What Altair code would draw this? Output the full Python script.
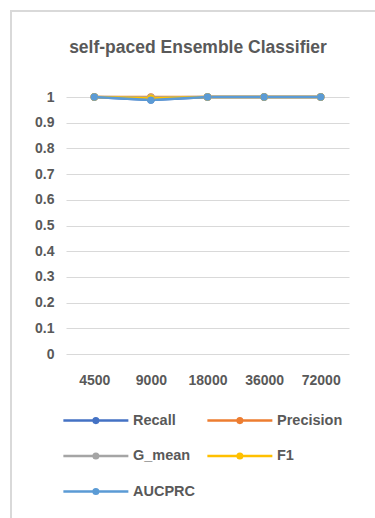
import altair as alt
import pandas as pd

# Sample sizes on the x axis
sizes = ["4500", "9000", "18000", "36000", "72000"]

# Metric values per sample size
recall = [1.0, 0.988, 1.0, 1.0, 1.0]
precision = [1.0, 1.0, 1.0, 1.0, 1.0]
g_mean = [1.0, 0.998, 1.0, 1.0, 1.0]
f1 = [1.0, 0.995, 1.0, 1.0, 1.0]
aucprc = [1.0, 0.988, 1.0, 1.0, 1.0]

series_names = ["Recall", "Precision", "G_mean", "F1", "AUCPRC"]
series_values = [recall, precision, g_mean, f1, aucprc]
series_colors = ["#4472C4", "#ED7D31", "#A5A5A5", "#FFC000", "#5B9BD5"]

chart_title = "self-paced Ensemble Classifier"

rows = []
for k, (name, vals) in enumerate(zip(series_names, series_values)):
    for s, v in zip(sizes, vals):
        rows.append({"size": s, "metric": name, "value": v, "k": k})
df = pd.DataFrame(rows)

TXT = "#595959"
FONT = "Liberation Sans"

# legend symbol: a short line with a dot in its middle, drawn to the
# right of the symbol origin so the label sits after the line
legend_symbol = (
    "M-1,0L7,0"
    "M2.72,0A0.28,0.28,0,1,1,3.28,0A0.28,0.28,0,1,1,2.72,0Z"
)

color = alt.Color(
    "metric:N",
    scale=alt.Scale(domain=series_names, range=series_colors),
    legend=alt.Legend(
        title=None,
        orient="none",
        legendX=-4,
        legendY=314,
        direction="horizontal",
        columns=2,
        columnPadding=6,
        rowPadding=18.5,
        symbolType=legend_symbol,
        symbolSize=264,
        symbolStrokeWidth=2.5,
        labelFont=FONT,
        labelFontSize=14.5,
        labelFontWeight="bold",
        labelColor=TXT,
        labelOffset=52,
    ),
)

x = alt.X(
    "size:N",
    sort=sizes,
    title=None,
    scale=alt.Scale(type="point", padding=0.5),
    axis=alt.Axis(
        labelAngle=0,
        domain=False,
        ticks=False,
        grid=False,
        labelPadding=19,
        labelFont=FONT,
        labelFontSize=14,
        labelFontWeight="bold",
        labelColor=TXT,
    ),
)
y = alt.Y(
    "value:Q",
    title=None,
    scale=alt.Scale(domain=[0, 1], nice=False),
    axis=alt.Axis(
        values=[i / 10 for i in range(11)],
        labelExpr="datum.value == 0 ? '0' : datum.value == 1 ? '1' : format(datum.value, '.1f')",
        domain=False,
        ticks=False,
        gridColor="#D9D9D9",
        gridWidth=1,
        labelPadding=12,
        labelFont=FONT,
        labelFontSize=14,
        labelFontWeight="bold",
        labelColor=TXT,
    ),
)

one = pd.DataFrame({"a": [0]})

# outer chart frame: left and top edges (right and bottom fall outside the page)
frame_left = alt.Chart(one).mark_rule(color="#D9D9D9", strokeWidth=2, clip=False).encode(
    x=alt.value(-55), y=alt.value(-87), y2=alt.value(440)
)
frame_top = alt.Chart(one).mark_rule(color="#D9D9D9", strokeWidth=2, clip=False).encode(
    x=alt.value(-56), x2=alt.value(330), y=alt.value(-86)
)

# chart heading
heading = alt.Chart(pd.DataFrame({"t": [chart_title]})).mark_text(
    font=FONT, fontSize=17.5, fontWeight="bold", color=TXT,
    align="center", baseline="middle",
).encode(text="t:N", x=alt.value(132), y=alt.value(-49))

lines = alt.Chart(df).mark_line(strokeWidth=2.5).encode(
    x=x, y=y, color=color, order=alt.Order("k:Q")
)
points = alt.Chart(df).mark_circle(size=55, opacity=1).encode(
    x=x, y=y, color=color
)

chart = (
    alt.layer(frame_left, frame_top, heading, lines, points)
    .properties(
        width=283,
        height=257,
        background="white",
        autosize=alt.AutoSizeParams(type="none"),
        padding={"left": 66, "top": 97, "right": 26, "bottom": 164},
    )
    .configure_view(stroke="transparent")
)

chart.save("out.html", embed_options={"renderer": "svg", "actions": False})
